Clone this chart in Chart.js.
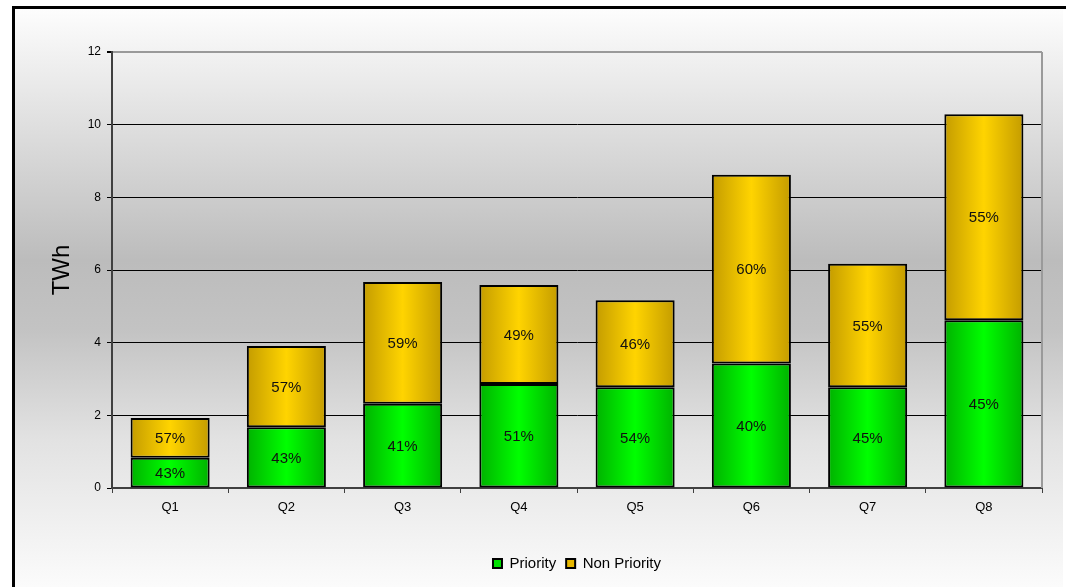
<!DOCTYPE html>
<html>
<head>
<meta charset="utf-8">
<script src="https://cdn.jsdelivr.net/npm/chart.js@4.4.1/dist/chart.umd.min.js"></script>
<style>
    html, body { margin: 0; padding: 0; background: #fff; }
    #wrap { width: 1066px; height: 587px; }
</style>
</head>
<body>
<div id="wrap"><canvas id="result-chart" width="1066" height="587"></canvas></div>
<script>
// quarterly volumes, TWh
const labels = ["Q1", "Q2", "Q3", "Q4", "Q5", "Q6", "Q7", "Q8"];
const priority = [0.83, 1.67, 2.32, 2.86, 2.77, 3.43, 2.77, 4.62];
const nonPriority = [1.10, 2.24, 3.35, 2.73, 2.40, 5.19, 3.40, 5.67];
const yTicks = [0, 2, 4, 6, 8, 10, 12];

const FONT = "'Liberation Sans', Arial, sans-serif";
const BAR_PCT = 0.68;

// horizontal shading on each bar: darker edges, bright middle
function barGradient(c, edge, mid) {
    const chart = c.chart;
    if (!chart.chartArea) return mid;
    const x = chart.scales.x;
    const cx = x.getPixelForValue(c.dataIndex);
    const half = x.width / labels.length * BAR_PCT / 2;
    const g = chart.ctx.createLinearGradient(cx - half, 0, cx + half, 0);
    g.addColorStop(0, edge);
    g.addColorStop(0.5, mid);
    g.addColorStop(1, edge);
    return g;
}

const backdrop = {
    id: 'backdrop',
    beforeDraw: function (chart) {
        const ctx = chart.ctx;
        ctx.save();
        const g = ctx.createLinearGradient(0, 9, 0, 587);
        g.addColorStop(0, '#fdfdfd');
        g.addColorStop(0.435, '#bcbcbc');
        g.addColorStop(0.555, '#c3c3c3');
        g.addColorStop(0.745, '#e2e2e2');
        g.addColorStop(1, '#fbfbfb');
        ctx.fillStyle = g;
        ctx.fillRect(14, 9, 1049, 578);
        // frame
        ctx.fillStyle = '#000';
        ctx.fillRect(12, 6, 1054, 3);
        ctx.fillRect(12, 6, 3, 581);
        ctx.restore();
    },
    afterDraw: function (chart) {
        const a = chart.chartArea;
        const ctx = chart.ctx;
        ctx.save();
        ctx.strokeStyle = '#9a9a9a';
        ctx.lineWidth = 2;
        ctx.beginPath();
        ctx.moveTo(a.right, a.top);
        ctx.lineTo(a.right, a.bottom);
        ctx.stroke();
        ctx.restore();
    }
};

// share of each quarter written inside the segment
const shareLabels = {
    id: 'shareLabels',
    afterDatasetsDraw: function (chart) {
        const ctx = chart.ctx;
        ctx.save();
        ctx.font = '15px ' + FONT;
        ctx.fillStyle = '#111';
        ctx.textAlign = 'center';
        ctx.textBaseline = 'middle';
        chart.data.datasets.forEach(function (ds, di) {
            const meta = chart.getDatasetMeta(di);
            meta.data.forEach(function (bar, i) {
                const total = priority[i] + nonPriority[i];
                const pct = Math.round(ds.data[i] / total * 100) + '%';
                ctx.fillText(pct, bar.x, (bar.y + bar.base) / 2 + 1);
            });
        });
        ctx.restore();
    }
};

const data = {
    labels: labels,
    datasets: [
        {
            label: 'Priority',
            data: priority,
            backgroundColor: c => barGradient(c, '#00b200', '#00ff00'),
            borderColor: '#000',
            borderWidth: 2,
            borderSkipped: false,
            barPercentage: BAR_PCT,
            categoryPercentage: 1
        },
        {
            label: 'Non Priority',
            data: nonPriority,
            backgroundColor: c => barGradient(c, '#c49c00', '#ffd400'),
            borderColor: '#000',
            borderWidth: 2,
            borderSkipped: false,
            barPercentage: BAR_PCT,
            categoryPercentage: 1
        }
    ]
};

const legendColors = ['#00e000', '#e8b800'];

const config = {
    type: 'bar',
    data: data,
    plugins: [backdrop, shareLabels],
    options: {
        responsive: false,
        animation: false,
        layout: { padding: { top: 52, left: 0, right: 24, bottom: 6 } },
        plugins: {
            legend: {
                position: 'bottom',
                fullSize: false,
                labels: {
                    font: { family: FONT, size: 15 },
                    color: '#000',
                    boxWidth: 9,
                    boxHeight: 9,
                    padding: 10,
                    generateLabels: function (chart) {
                        return chart.data.datasets.map(function (ds, i) {
                            return {
                                text: ds.label,
                                fillStyle: legendColors[i],
                                strokeStyle: '#000',
                                lineWidth: 2,
                                datasetIndex: i,
                                hidden: false
                            };
                        });
                    }
                }
            },
            tooltip: { enabled: false }
        },
        scales: {
            x: {
                stacked: true,
                afterFit: function (scale) { scale.height = 58; },
                grid: {
                    offset: true,
                    drawOnChartArea: false,
                    tickLength: 5,
                    tickColor: '#404040'
                },
                border: { color: '#404040', width: 2 },
                ticks: {
                    font: { family: FONT, size: 13 },
                    color: '#000',
                    padding: 7
                }
            },
            y: {
                stacked: true,
                min: 0,
                max: 12,
                afterFit: function (scale) { scale.width = 112; },
                afterBuildTicks: function (scale) {
                    scale.ticks = yTicks.map(v => ({ value: v }));
                },
                grid: {
                    color: c => c.tick && c.tick.value === 12 ? '#9a9a9a' : '#000',
                    lineWidth: c => c.tick && c.tick.value === 12 ? 2 : 1,
                    tickLength: 5,
                    tickColor: '#000'
                },
                border: { color: '#404040', width: 2 },
                ticks: {
                    font: { family: FONT, size: 12 },
                    color: '#000',
                    padding: 6
                },
                title: {
                    display: true,
                    text: 'TWh',
                    font: { family: FONT, size: 24 },
                    color: '#000',
                    padding: { top: 48, bottom: 0 }
                }
            }
        }
    }
};

const ctx = document.getElementById('result-chart').getContext('2d');
new Chart(ctx, config);
</script>
</body>
</html>
